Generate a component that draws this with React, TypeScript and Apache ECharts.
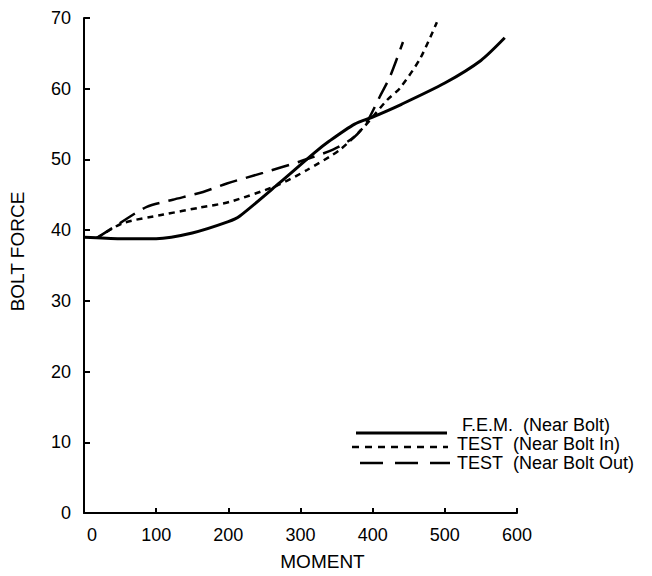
import React, { useEffect, useRef } from "react";
import * as echarts from "echarts";

const FONT = "'Liberation Sans', Arimo, Helvetica, Arial, sans-serif";

const xTicks = [0, 100, 200, 300, 400, 500, 600];
const yTicks = [0, 10, 20, 30, 40, 50, 60, 70];

const femMoment = [0, 50, 100, 150, 200, 216, 270, 320, 340, 375, 400, 440, 500, 550, 583];
const femForce = [39, 38.8, 38.8, 39.6, 41.2, 42, 46.6, 51, 52.6, 55, 56, 57.8, 60.8, 64, 67.2];

const inMoment = [18, 54, 110, 161, 202, 267, 309, 355, 387, 420, 438, 466, 489];
const inForce = [38.9, 41, 42.2, 43.2, 44, 46.3, 48.5, 51.4, 54.5, 58.4, 60.1, 64.3, 69.4];

const outMoment = [18, 50, 87, 123, 165, 198, 248, 299, 345, 375, 392, 410, 424, 442];
const outForce = [38.9, 41, 43.3, 44.3, 45.4, 46.6, 48.1, 49.7, 51.4, 53.2, 55.3, 58.9, 61.7, 66.6];

const legendLabels = [
  "F.E.M.\u00a0 (Near Bolt)",
  "TEST\u00a0 (Near Bolt In)",
  "TEST\u00a0 (Near Bolt Out)",
];

const zip = (xs: number[], ys: number[]) => xs.map((x, i) => [x, ys[i]]);

export default function App() {
  const ref = useRef<HTMLDivElement>(null);
  useEffect(() => {
    document.body.style.margin = "0";
    if (!ref.current) return;
    const chart = echarts.init(ref.current, null, { renderer: "svg" });
    const axisStyle = { color: "#000", width: 2 };
    chart.setOption({
      animation: false,
      backgroundColor: "#fff",
      grid: { left: 84, right: 135, top: 18, bottom: 62, containLabel: false },
      xAxis: {
        type: "value",
        min: xTicks[0],
        max: xTicks[xTicks.length - 1],
        interval: 100,
        name: "MOMENT",
        nameLocation: "middle",
        nameGap: 39,
        nameTextStyle: { fontFamily: FONT, fontSize: 19, color: "#000", padding: [0, 0, 0, 44] },
        axisLine: { lineStyle: axisStyle },
        axisTick: { inside: true, length: 5, lineStyle: axisStyle },
        splitLine: { show: false },
        axisLabel: {
          fontFamily: FONT,
          fontSize: 18,
          color: "#000",
          margin: 13,
          formatter: (v: number) => (v === 0 ? "{z|0}" : String(v)),
          rich: { z: { fontFamily: FONT, fontSize: 18, color: "#000", padding: [0, 0, 0, 16] } },
        },
      },
      yAxis: {
        type: "value",
        min: yTicks[0],
        max: yTicks[yTicks.length - 1],
        interval: 10,
        name: "BOLT FORCE",
        nameLocation: "middle",
        nameGap: 57,
        nameTextStyle: { fontFamily: FONT, fontSize: 19, color: "#000", padding: [0, 0, 0, 28] },
        axisLine: { lineStyle: axisStyle },
        axisTick: { inside: true, length: 6, lineStyle: axisStyle },
        splitLine: { show: false },
        axisLabel: { fontFamily: FONT, fontSize: 18, color: "#000", margin: 13 },
      },
      series: [
        {
          type: "line",
          name: legendLabels[0],
          data: zip(femMoment, femForce),
          smooth: 0.25,
          symbol: "none",
          lineStyle: { color: "#000", width: 3 },
        },
        {
          type: "line",
          name: legendLabels[1],
          data: zip(inMoment, inForce),
          smooth: 0.25,
          symbol: "none",
          lineStyle: { color: "#000", width: 2.5, type: [6, 5] },
        },
        {
          type: "line",
          name: legendLabels[2],
          data: zip(outMoment, outForce),
          smooth: 0.25,
          symbol: "none",
          lineStyle: { color: "#000", width: 2.5, type: [18, 9] },
        },
      ],
      graphic: [
        { type: "line", shape: { x1: 356, y1: 433, x2: 447, y2: 433 }, style: { stroke: "#000", lineWidth: 3 } },
        { type: "line", shape: { x1: 352, y1: 447, x2: 448, y2: 447 }, style: { stroke: "#000", lineWidth: 2.5, lineDash: [7, 6] } },
        { type: "line", shape: { x1: 360, y1: 463, x2: 450, y2: 463 }, style: { stroke: "#000", lineWidth: 2.5, lineDash: [23, 12] } },
        { type: "text", x: 462, y: 425, style: { text: legendLabels[0], font: `18px ${FONT}`, fill: "#000", textVerticalAlign: "middle" } },
        { type: "text", x: 457, y: 444, style: { text: legendLabels[1], font: `18px ${FONT}`, fill: "#000", textVerticalAlign: "middle" } },
        { type: "text", x: 457, y: 463, style: { text: legendLabels[2], font: `18px ${FONT}`, fill: "#000", textVerticalAlign: "middle" } },
      ],
    });
    return () => chart.dispose();
  }, []);
  return <div ref={ref} style={{ width: 652, height: 576 }} />;
}
